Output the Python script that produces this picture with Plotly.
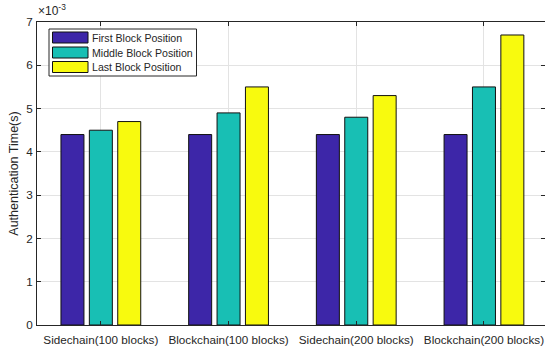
import plotly.graph_objects as go

categories = ["Sidechain(100 blocks)", "Blockchain(100 blocks)", "Sidechain(200 blocks)", "Blockchain(200 blocks)"]
series_names = ["First Block Position", "Middle Block Position", "Last Block Position"]
first_vals = [0.0044, 0.0044, 0.0044, 0.0044]
middle_vals = [0.0045, 0.0049, 0.0048, 0.0055]
last_vals = [0.0047, 0.0055, 0.0053, 0.0067]
colors = ["#3d26a8", "#18bfb4", "#f8fa0e"]
ytick_vals = [0, 0.001, 0.002, 0.003, 0.004, 0.005, 0.006, 0.007]
ytick_text = ["0", "1", "2", "3", "4", "5", "6", "7"]

W, H = 545, 349
L, R, T, B = 37, 0, 22, 24
pw, ph = W - L - R, H - T - B

xpos = [1, 2, 3, 4]
fig = go.Figure()
for name, vals, col in zip(series_names, [first_vals, middle_vals, last_vals], colors):
    fig.add_trace(go.Bar(x=xpos, y=vals, name=name, marker=dict(color=col, line=dict(color="#111111", width=1)),
                         showlegend=False))

font_family = "Liberation Sans, Arial, Helvetica, sans-serif"
axis_col = "#262626"
grid_col = "#e3e3e3"

fig.update_layout(
    width=W, height=H, margin=dict(l=L, r=R, t=T, b=B),
    paper_bgcolor="white", plot_bgcolor="white",
    barmode="group", bargap=0.333, bargroupgap=0.19,
    font=dict(family=font_family, size=11.5, color=axis_col),
    xaxis=dict(range=[0.5, 4.478], tickmode="array", tickvals=xpos, ticktext=categories,
               showgrid=True, gridcolor=grid_col, gridwidth=1, ticks="inside", ticklen=4,
               tickcolor=axis_col, showline=True, linecolor=axis_col, linewidth=1, mirror="ticks",
               tickfont=dict(size=11.7, color=axis_col), zeroline=False, ticklabelstandoff=4),
    yaxis=dict(range=[0, 0.007], tickmode="array", tickvals=ytick_vals, ticktext=ytick_text,
               showgrid=True, gridcolor=grid_col, gridwidth=1, ticks="inside", ticklen=4,
               tickcolor=axis_col, showline=True, linecolor=axis_col, linewidth=1, mirror="ticks",
               tickfont=dict(size=11.7, color=axis_col), zeroline=False, ticklabelstandoff=1,
               title=dict(text="Authentication Time(s)", font=dict(size=12.5, color=axis_col), standoff=4)),
)

def px(x):
    return (x - L) / pw

def py(y):
    return (H - B - y) / ph

# exponent label
fig.add_annotation(x=px(36), y=py(20), xref="paper", yref="paper", xanchor="left", yanchor="bottom",
                   text="×10<sup>-3</sup>", showarrow=False, font=dict(size=12, color=axis_col))

# custom legend box
fig.add_shape(type="rect", xref="paper", yref="paper", x0=px(49), x1=px(196.5), y0=py(76), y1=py(29),
              line=dict(color="#262626", width=1), fillcolor="white", layer="above")
row_tops = [32, 47, 61.5]
for i, (name, col) in enumerate(zip(series_names, colors)):
    top = row_tops[i]
    fig.add_shape(type="rect", xref="paper", yref="paper", x0=px(52.5), x1=px(88), y0=py(top + 11), y1=py(top),
                  line=dict(color="#111111", width=1), fillcolor=col, layer="above")
    fig.add_annotation(x=px(89.5), y=py(top + 5.5), xref="paper", yref="paper", xanchor="left", yanchor="middle",
                       text=name, showarrow=False, font=dict(size=10.6, color=axis_col))

fig.write_html("out.html")
